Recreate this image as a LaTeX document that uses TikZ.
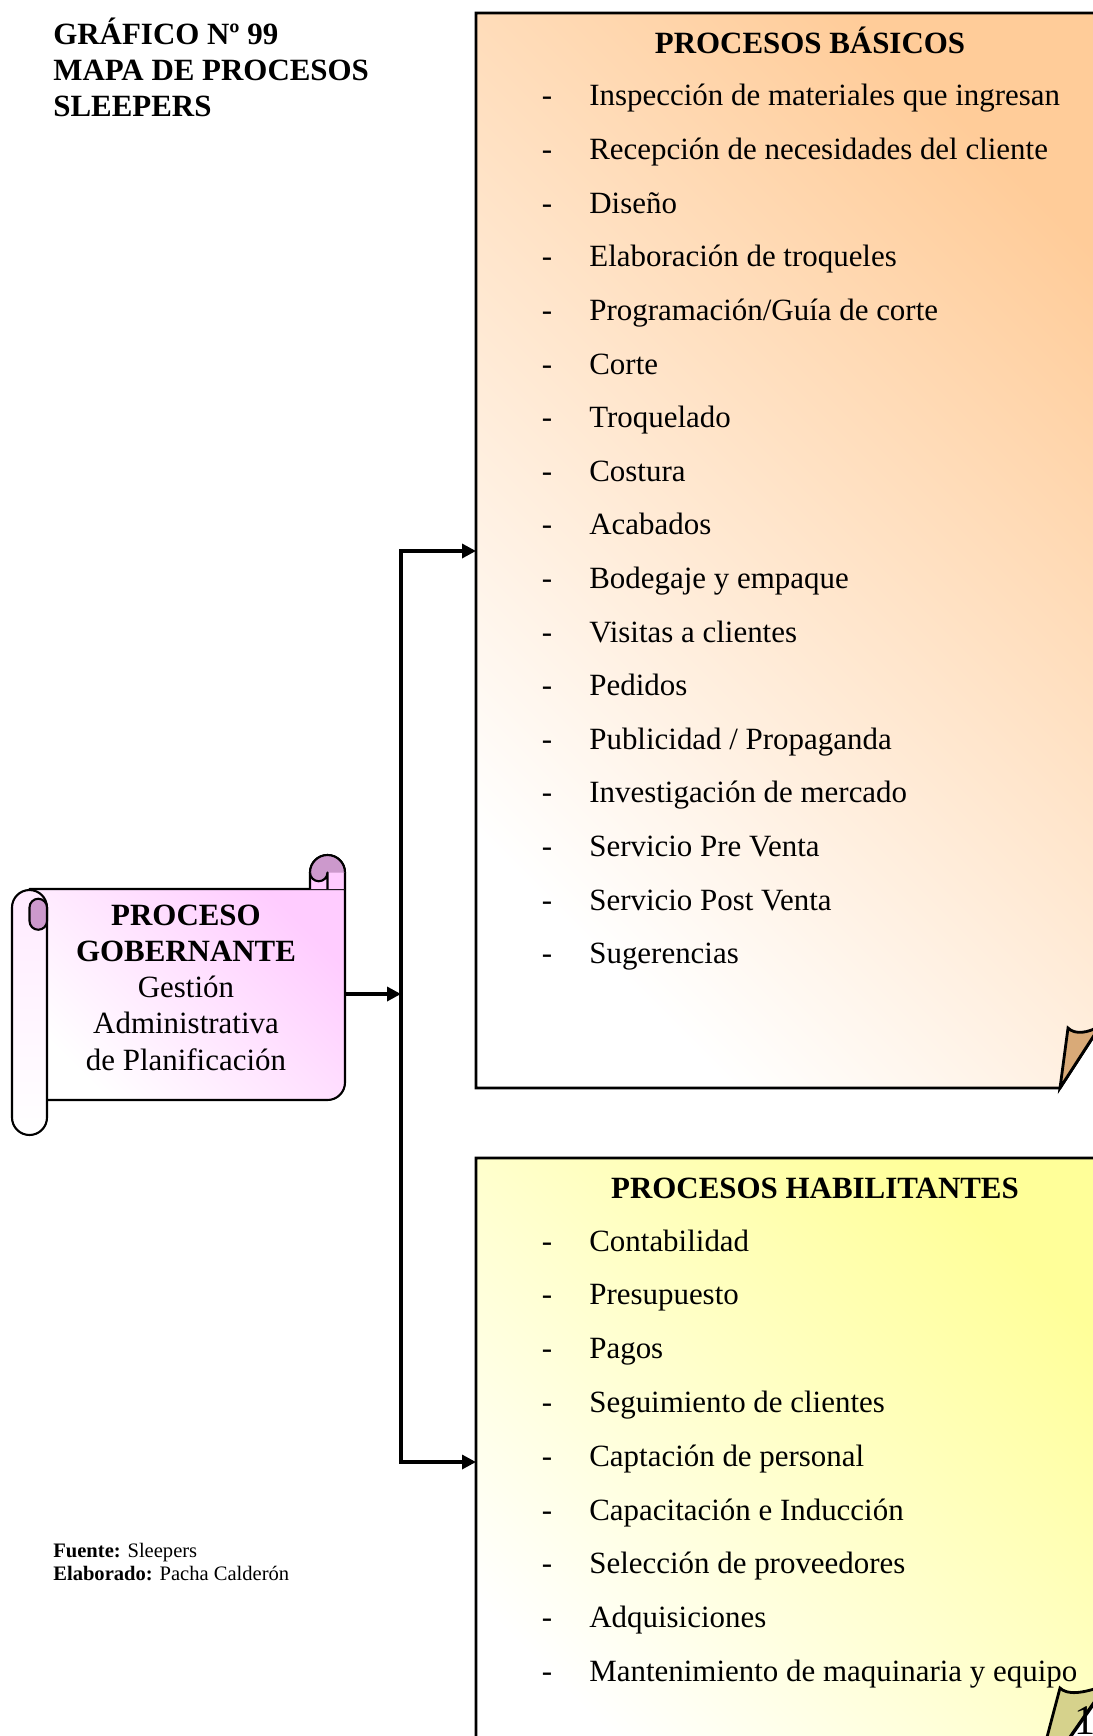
\documentclass[tikz,border=0pt]{standalone}
\usepackage{fontspec}
\setmainfont{Liberation Serif}
\usepackage{tikz}
\usetikzlibrary{arrows.meta}

\definecolor{naranja}{HTML}{FFCC99}
\definecolor{amarillo}{HTML}{FFFF99}
\definecolor{rosa}{HTML}{FFCCFF}
\definecolor{lila}{HTML}{CC99CC}
\definecolor{doblezN}{HTML}{D9AA78}
\definecolor{doblezA}{HTML}{D6D28C}

\newcommand{\letra}{\fontsize{17.6}{20.6}\selectfont}
\newcommand{\letrita}{\fontsize{11.7}{13.7}\selectfont}

\tikzset{
	caja/.style={draw=black, line width=1.6pt, line join=miter},
	rollo/.style={draw=black, line width=1.2pt, line join=round},
	flecha/.style={line width=1.9pt, >={Triangle[length=2.8mm,width=2.8mm]}}
}
\tikzstyle{item} = [anchor=base west, inner sep=0pt, font=\letra]
\tikzstyle{guion} = [anchor=base, inner sep=0pt, font=\letra]
\tikzstyle{cabeza} = [anchor=base, inner sep=0pt, font=\letra\bfseries]

\begin{document}
\begin{tikzpicture}[x=0.2mm, y=-0.2mm]

\useasboundingbox (0,0) rectangle (1093,1736);
\clip (0,0) rectangle (1093,1736);

% Titulo (base = ultima linea)
\node[anchor=base west, inner sep=0pt, align=left, font=\letra\bfseries] (titulo) at (53,117)
	{GRÁFICO Nº 99\\MAPA DE PROCESOS\\SLEEPERS};

% Procesos basicos
\draw[caja, top color=naranja, bottom color=white, shading angle=-45]
	(476,13) -- (1110,13) -- (1110,1011) -- (1060,1088) -- (476,1088) -- cycle;
\draw[caja, fill=doblezN] (1060,1088) -- (1068,1028)
	.. controls (1075,1035) and (1088,1033) .. (1100,1026) -- cycle;
\node[cabeza] (basicos) at (810,54) {PROCESOS BÁSICOS};
\foreach \t [count=\i from 0] in {Inspección de materiales que ingresan,
	Recepción de necesidades del cliente, Diseño, Elaboración de troqueles,
	Programación/Guía de corte, Corte, Troquelado, Costura, Acabados,
	Bodegaje y empaque, Visitas a clientes, Pedidos, Publicidad / Propaganda,
	Investigación de mercado, Servicio Pre Venta, Servicio Post Venta, Sugerencias}
{
	\node[guion] (gb\i) at (547,{106+53.6*\i}) {-};
	\node[item] (b\i) at (589,{106+53.6*\i}) {\t};
}

% Procesos habilitantes
\draw[caja, top color=amarillo, bottom color=white, shading angle=-45]
	(476,1158) -- (1110,1158) -- (1110,1681) -- (1033,1790) -- (476,1790) -- cycle;
\draw[caja, fill=doblezA] (1033,1790) -- (1060,1688)
	.. controls (1067,1695) and (1082,1694) .. (1106,1685) -- cycle;
\node[cabeza] (habilitantes) at (815,1198) {PROCESOS HABILITANTES};
\foreach \t [count=\i from 0] in {Contabilidad, Presupuesto, Pagos,
	Seguimiento de clientes, Captación de personal, Capacitación e Inducción,
	Selección de proveedores, Adquisiciones, Mantenimiento de maquinaria y equipo}
{
	\node[guion] (gh\i) at (547,{1251+53.8*\i}) {-};
	\node[item] (h\i) at (589,{1251+53.8*\i}) {\t};
}
\node[anchor=base west, inner sep=0pt, font=\fontsize{24}{28}\selectfont] (pagina) at (1074,1734) {1};

% Pergamino
\draw[rollo, top color=rosa, bottom color=white, shading angle=-45]
	(29.5,889) -- (345,889) -- (345,1082.5) arc[start angle=0, end angle=90, radius=17.5]
	-- (29.5,1100) -- cycle;
\draw[rollo, fill=rosa] (310,889) -- (310,872.5) arc[start angle=180, end angle=360, radius=17.5]
	-- (345,889);
\fill[lila] (310,872.5) arc[start angle=180, end angle=360, radius=17.5]
	-- (327.5,872.5) arc[start angle=0, end angle=180, radius=8.75] -- cycle;
\draw[rollo] (310,872.5) arc[start angle=180, end angle=360, radius=17.5];
\draw[rollo] (310,872.5) arc[start angle=180, end angle=0, radius=8.75] -- (327.5,889);
\draw[rollo, top color=rosa!40, bottom color=white]
	(12,907.5) arc[start angle=180, end angle=360, radius=17.5]
	-- (47,1117.5) arc[start angle=0, end angle=180, radius=17.5] -- cycle;
\draw[rollo, fill=lila] (29.5,921) -- (29.5,907.5) arc[start angle=180, end angle=360, radius=8.75]
	-- (47,921) arc[start angle=0, end angle=180, radius=8.75];
\node[align=center, inner sep=0pt, anchor=base, font=\letra] (gob) at (186,1070)
	{\textbf{PROCESO}\\\textbf{GOBERNANTE}\\Gestión\\Administrativa\\de Planificación};

% Conexiones
\coordinate (salGob) at (345,994);
\coordinate (nudo) at (401,994);
\coordinate (entBas) at (476,551);
\coordinate (entHab) at (476,1462);
\draw[flecha, ->] (salGob) -- (nudo);
\draw[flecha, <->] (entBas) -- (nudo |- entBas) -- (nudo |- entHab) -- (entHab);

% Fuente
\node[anchor=base west, inner sep=0pt, font=\letrita] (fuente) at (53,1557) {\textbf{Fuente:} Sleepers};
\node[anchor=base west, inner sep=0pt, font=\letrita] (elaborado) at (53,1580) {\textbf{Elaborado:} Pacha Calderón};

\end{tikzpicture}
\end{document}
